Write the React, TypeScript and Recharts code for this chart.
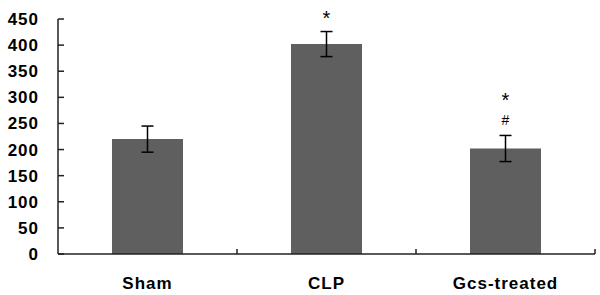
import React from "react";
import { BarChart, Bar, XAxis, YAxis, ErrorBar, LabelList } from "recharts";

const categories = ["Sham", "CLP", "Gcs-treated"];
const means = [220, 402, 202];
const errors = [25, 24, 25];
const marks: string[][] = [[], ["*"], ["*", "#"]];
const yTicks = [0, 50, 100, 150, 200, 250, 300, 350, 400, 450];

const data = categories.map((c, i) => ({ name: c, value: means[i], err: errors[i] }));

const FONT = "'Liberation Sans', Arial, sans-serif";
const AX = "#222";
const X_TICK_MARGIN = 23;
const BOUNDARY_TICK_LEN = 5;

const MarkLabel = (props: any) => {
  const { x, y, width, index } = props;
  const m = marks[index] || [];
  const cx = x + width / 2;
  if (m.length === 0) return null;
  if (m.length === 1) {
    return (
      <text x={cx} y={y - 19} textAnchor="middle" fontFamily={FONT} fontSize={20} fill="#000">
        {m[0]}
      </text>
    );
  }
  return (
    <g>
      <text x={cx} y={y - 42} textAnchor="middle" fontFamily={FONT} fontSize={20} fill="#000">
        {m[0]}
      </text>
      <text x={cx} y={y - 24} textAnchor="middle" fontFamily={FONT} fontSize={14} fill="#000">
        {m[1]}
      </text>
    </g>
  );
};

const CategoryTick = (props: any) => {
  const { x, y, payload, width, visibleTicksCount } = props;
  const n = visibleTicksCount || categories.length;
  const half = width / n / 2;
  const axisY = y - X_TICK_MARGIN;
  const bx = x + half;
  return (
    <g>
      <line x1={bx} x2={bx} y1={axisY} y2={axisY - BOUNDARY_TICK_LEN} stroke={AX} strokeWidth={1.5} />
      <text
        x={x}
        y={y}
        dy="0.71em"
        textAnchor="middle"
        fontFamily={FONT}
        fontSize={17}
        fontWeight="bold"
        fill="#000"
        letterSpacing={1}
      >
        {payload.value}
      </text>
    </g>
  );
};

export default function App() {
  return (
    <div style={{ position: "absolute", left: 0, top: 0, background: "#fff" }}>
      <BarChart width={600} height={295} data={data} margin={{ top: 19, right: 5, left: 0, bottom: 11 }}>
        <XAxis
          dataKey="name"
          height={30}
          tickLine={false}
          tickSize={0}
          tickMargin={X_TICK_MARGIN}
          axisLine={{ stroke: AX, strokeWidth: 1.5 }}
          tick={CategoryTick}
        />
        <YAxis
          domain={[0, 450]}
          ticks={yTicks}
          width={58}
          interval={0}
          tickSize={-6}
          tickMargin={25}
          tickLine={{ stroke: AX, strokeWidth: 1.5 }}
          axisLine={{ stroke: AX, strokeWidth: 1.5 }}
          tick={{ fontFamily: FONT, fontSize: 17, fontWeight: "bold", fill: "#000", letterSpacing: 1 }}
        />
        <Bar dataKey="value" fill="#5f5f5f" barSize={71} isAnimationActive={false}>
          <ErrorBar dataKey="err" width={6} stroke="#000" strokeWidth={1.5} />
          <LabelList dataKey="value" content={MarkLabel} />
        </Bar>
      </BarChart>
    </div>
  );
}
